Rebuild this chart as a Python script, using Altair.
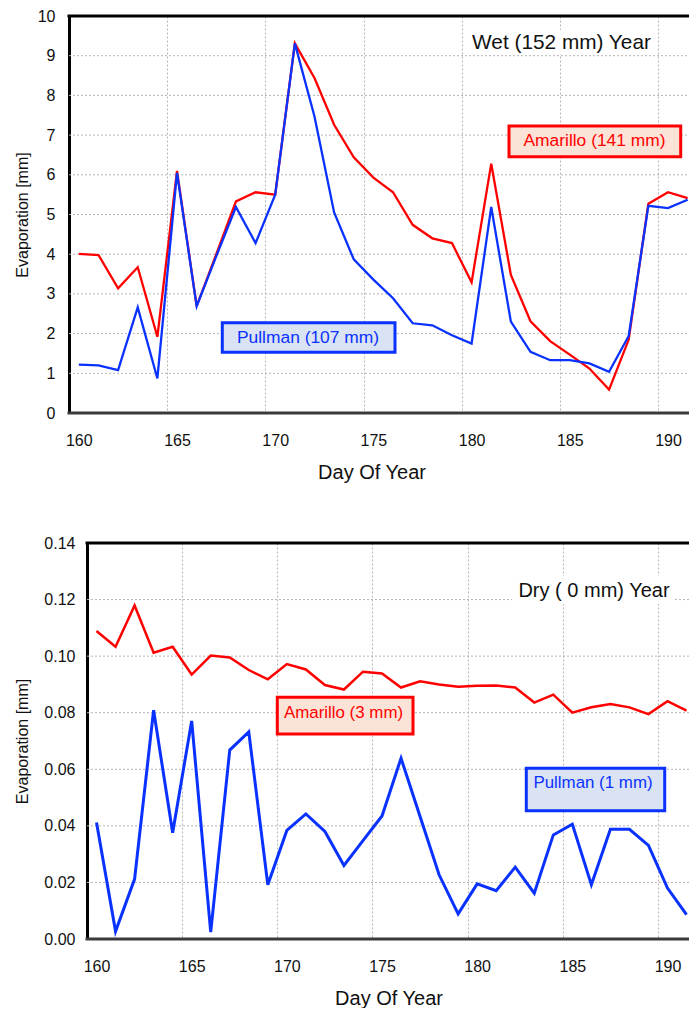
import altair as alt
import pandas as pd

# ---------------- data ----------------
days = list(range(160, 192))

wet_amarillo = [4.01, 3.98, 3.14, 3.67, 1.92, 6.10, 2.69, 4.00, 5.33, 5.56, 5.50, 9.31,
                8.44, 7.26, 6.44, 5.93, 5.56, 4.74, 4.40, 4.28, 3.29, 6.28, 3.48, 2.31,
                1.81, 1.47, 1.12, 0.59, 1.85, 5.27, 5.56, 5.41]
wet_pullman = [1.22, 1.20, 1.08, 2.66, 0.87, 6.05, 2.69, 3.95, 5.19, 4.28, 5.50, 9.31,
               7.47, 5.05, 3.87, 3.36, 2.89, 2.26, 2.21, 1.96, 1.75, 5.19, 2.30, 1.54,
               1.33, 1.33, 1.25, 1.04, 1.94, 5.22, 5.16, 5.37]

dry_amarillo = [0.1089, 0.1033, 0.1179, 0.1012, 0.1033, 0.0935, 0.1002, 0.0995, 0.0951,
                0.0918, 0.0972, 0.0953, 0.0898, 0.0882, 0.0945, 0.0939, 0.0889, 0.0911,
                0.0900, 0.0892, 0.0895, 0.0896, 0.0889, 0.0836, 0.0864, 0.0800, 0.0819,
                0.0831, 0.0819, 0.0795, 0.0841, 0.0807]
dry_pullman = [0.0412, 0.0027, 0.0212, 0.0809, 0.0376, 0.0771, 0.0024, 0.0668, 0.0732,
               0.0192, 0.0384, 0.0442, 0.0380, 0.0260, 0.0348, 0.0435, 0.0639, 0.0433,
               0.0227, 0.0089, 0.0195, 0.0171, 0.0254, 0.0162, 0.0368, 0.0406, 0.0192,
               0.0388, 0.0388, 0.0331, 0.0180, 0.0086]

x_ticks = [160, 165, 170, 175, 180, 185, 190]
wet_y_ticks = [0, 1, 2, 3, 4, 5, 6, 7, 8, 9, 10]
dry_y_ticks = [0.0, 0.02, 0.04, 0.06, 0.08, 0.10, 0.12, 0.14]

wet_labels = ["Wet (152 mm) Year", "Amarillo (141 mm)", "Pullman (107 mm)"]
dry_labels = ["Dry ( 0 mm) Year", "Amarillo (3 mm)", "Pullman (1 mm)"]

x_title = "Day Of Year"
y_title = "Evaporation [mm]"

# ---------------- style ----------------
FONT = "Liberation Sans"
RED = "#ff0000"
BLUE = "#0a32ff"
RED_FILL = "#fbe4d7"
BLUE_FILL = "#dae3f3"
GRID = "#b4b4b4"
W = 620

one = pd.DataFrame({"k": [0]})


def panel(amar, pull, y_ticks, y_dom, y_fmt, shift, height, x_end,
          labels, boxes, texts, title_pos, title_box, lw_red, lw_blue,
          ann_size, title_size, y_title_pad, y_label_pad, x_title_x):
    width = W
    half = (width - shift) / (x_end - 159.5) / 2.0
    x_enc = alt.X("day:Q",
                  scale=alt.Scale(domain=[159.5, x_end], range=[shift, width], nice=False, zero=False),
                  axis=alt.Axis(values=x_ticks, tickOffset=-half, labelOffset=half, labelFlush=False,
                                grid=True, gridDash=[2, 2], gridColor=GRID, gridWidth=1,
                                ticks=False, tickSize=0, domain=False,
                                labelFontSize=16, labelPadding=19, labelColor="#111111",
                                title=x_title, titleFontSize=20, titleFontWeight="normal",
                                titlePadding=14, titleColor="#111111", titleX=x_title_x))
    y_enc = alt.Y("v:Q", scale=alt.Scale(domain=y_dom, nice=False, zero=False),
                  axis=alt.Axis(values=y_ticks, format=y_fmt, grid=False, offset=-shift,
                                ticks=False, tickSize=0,
                                domainColor="#000000", domainWidth=3,
                                labelFontSize=16, labelPadding=y_label_pad,
                                labelColor="#111111", title=y_title, titleFontSize=16,
                                titleFontWeight="normal", titlePadding=y_title_pad,
                                titleColor="#111111"))

    df_grid = pd.DataFrame({"v": y_ticks})
    df_a = pd.DataFrame({"day": days, "v": amar})
    df_p = pd.DataFrame({"day": days, "v": pull})

    grid = alt.Chart(df_grid).mark_rule(color=GRID, strokeWidth=1, strokeDash=[2, 2]).encode(
        y=y_enc, x=alt.value(shift), x2=alt.value(width))
    line_a = alt.Chart(df_a).mark_line(color=RED, strokeWidth=lw_red, clip=True).encode(x=x_enc, y=y_enc)
    line_p = alt.Chart(df_p).mark_line(color=BLUE, strokeWidth=lw_blue, clip=True).encode(x=x_enc, y=y_enc)

    layers = [grid, line_a, line_p]

    # white box behind the panel title
    layers.append(alt.Chart(one).mark_rect(fill="white").encode(
        x=alt.value(title_box[0] + shift), x2=alt.value(title_box[1] + shift),
        y=alt.value(title_box[2]), y2=alt.value(title_box[3])))
    layers.append(alt.Chart(one).mark_text(fontSize=title_size, color="#111111", align="center",
                                           baseline="middle").encode(
        x=alt.value(title_pos[0] + shift), y=alt.value(title_pos[1]), text=alt.value(labels[0])))

    # series label boxes
    for (bx, tx, lab, col, fill) in [(boxes[0], texts[0], labels[1], RED, RED_FILL),
                                      (boxes[1], texts[1], labels[2], BLUE, BLUE_FILL)]:
        layers.append(alt.Chart(one).mark_rect(fill=fill, stroke=col, strokeWidth=3).encode(
            x=alt.value(bx[0] + shift), x2=alt.value(bx[1] + shift),
            y=alt.value(bx[2]), y2=alt.value(bx[3])))
        layers.append(alt.Chart(one).mark_text(fontSize=ann_size, color=col, align="center",
                                               baseline="middle").encode(
            x=alt.value(tx[0] + shift), y=alt.value(tx[1]), text=alt.value(lab)))

    # frame lines (top black, bottom dark grey)
    layers.append(alt.Chart(one).mark_rule(color="black", strokeWidth=3).encode(
        x=alt.value(shift - 1.5), x2=alt.value(width), y=alt.value(0)))
    layers.append(alt.Chart(one).mark_rule(color="#3a3a3a", strokeWidth=3).encode(
        x=alt.value(shift - 1.5), x2=alt.value(width), y=alt.value(height)))

    return alt.layer(*layers).properties(width=width, height=height)


top = panel(wet_amarillo, wet_pullman, wet_y_ticks, [0, 10], "d", 0, 397, 191.07,
            wet_labels,
            boxes=[(440, 611.7, 110, 140.7), (153.3, 326, 306.7, 336.3)],
            texts=[(525.5, 125), (239, 321.5)],
            title_pos=(492.5, 27), title_box=(398, 588, 14, 38),
            lw_red=2.3, lw_blue=2.3, ann_size=17.4, title_size=20.8,
            y_title_pad=7, y_label_pad=14, x_title_x=302.5)

bottom = panel(dry_amarillo, dry_pullman, dry_y_ticks, [0, 0.14], ".2f", 18, 396, 191.13,
               dry_labels,
               boxes=[(190.3, 326, 154.3, 191), (439.3, 577.7, 225.3, 267.7)],
               texts=[(256.5, 170), (506, 240)],
               title_pos=(507, 47.5), title_box=(425, 587, 33, 61),
               lw_red=2.5, lw_blue=3.0, ann_size=16.9, title_size=20,
               y_title_pad=13.5, y_label_pad=12, x_title_x=319.5)

chart = alt.vconcat(top, bottom, spacing=53).properties(
    padding={"left": 14, "top": 8, "right": 0, "bottom": 0}
).configure(font=FONT).configure_view(stroke=None)

chart.save("out.html", embed_options={"renderer": "svg", "actions": False})
